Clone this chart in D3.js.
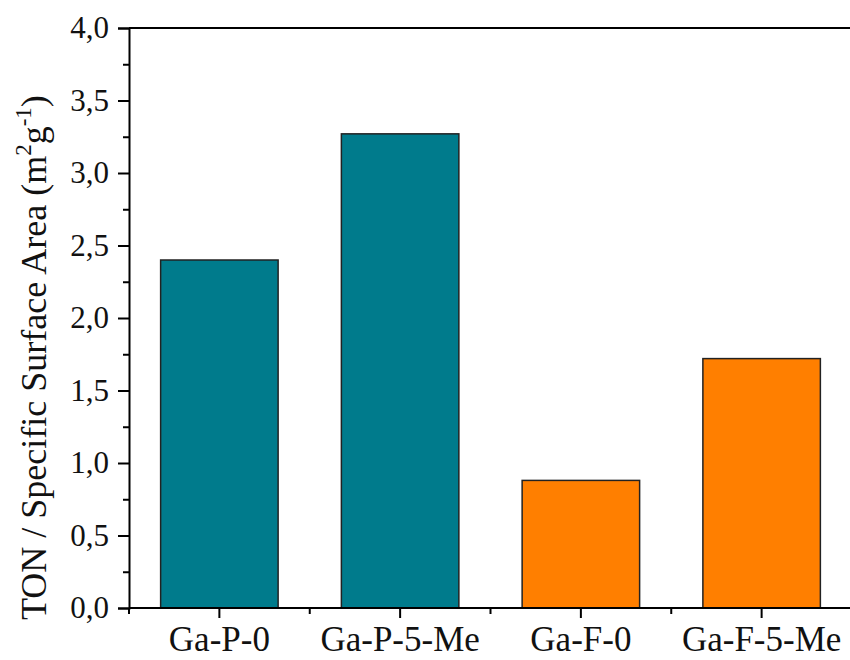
<!DOCTYPE html>
<html>
<head>
<meta charset="utf-8">
<script src="https://cdn.jsdelivr.net/npm/d3@7"></script>
<style>
  html, body { margin: 0; padding: 0; background: #fff; }
  svg text { font-family: "Liberation Serif", "Times New Roman", serif; fill: #111; }
</style>
</head>
<body>
<svg id="chart" width="850" height="660"></svg>
<script>
const categories = ["Ga-P-0", "Ga-P-5-Me", "Ga-F-0", "Ga-F-5-Me"];
const values = [2.40, 3.27, 0.88, 1.72];
const barColors = ["#007B8C", "#007B8C", "#FF7F00", "#FF7F00"];
const yTicks = [0, 0.5, 1.0, 1.5, 2.0, 2.5, 3.0, 3.5, 4.0];
const yMinorTicks = [0.25, 0.75, 1.25, 1.75, 2.25, 2.75, 3.25, 3.75];

const svg = d3.select("#chart");
const mLeft = 129, mRight = 852, mTop = 28, mBottom = 608;

const x = d3.scaleBand().domain(categories).range([mLeft, mRight])
  .paddingInner(0.35).paddingOuter(0.175);
const y = d3.scaleLinear().domain([0, 4]).range([mBottom, mTop]);

const fmt = d => d3.format(".1f")(d).replace(".", ",");

// bars
svg.append("g").selectAll("rect").data(categories).join("rect")
  .attr("x", d => x(d))
  .attr("y", (d, i) => y(values[i]))
  .attr("width", x.bandwidth())
  .attr("height", (d, i) => y(0) - y(values[i]))
  .attr("fill", (d, i) => barColors[i])
  .attr("stroke", "#222")
  .attr("stroke-width", 1.5);

// frame top & right
svg.append("line").attr("x1", mLeft).attr("x2", mRight).attr("y1", mTop).attr("y2", mTop)
  .attr("stroke", "#000").attr("stroke-width", 2);
svg.append("line").attr("x1", mRight).attr("x2", mRight).attr("y1", mTop).attr("y2", mBottom)
  .attr("stroke", "#000").attr("stroke-width", 2);

// y axis
const yAxis = svg.append("g").attr("transform", `translate(${mLeft},0)`)
  .call(d3.axisLeft(y).tickValues(yTicks).tickFormat(fmt).tickSize(11).tickPadding(9));
yAxis.select(".domain").attr("stroke-width", 2).attr("stroke", "#000");
yAxis.selectAll(".tick line").attr("stroke-width", 2).attr("stroke", "#000");
yAxis.selectAll(".tick text").attr("font-size", 31).attr("font-family", "Liberation Serif").attr("fill", "#111");
svg.append("g").attr("transform", `translate(${mLeft},0)`)
  .call(d3.axisLeft(y).tickValues(yMinorTicks).tickFormat("").tickSize(6))
  .call(g => g.select(".domain").remove())
  .selectAll(".tick line").attr("stroke-width", 2).attr("stroke", "#000");

// x axis
const xAxis = svg.append("g").attr("transform", `translate(0,${mBottom})`)
  .call(d3.axisBottom(x).tickSize(10).tickPadding(8));
xAxis.select(".domain").attr("stroke-width", 2).attr("stroke", "#000").attr("d", `M${mLeft},0H${mRight}`);
xAxis.selectAll(".tick line").attr("stroke-width", 2).attr("stroke", "#000");
xAxis.selectAll(".tick text").attr("font-size", 35).attr("font-family", "Liberation Serif").attr("fill", "#111");

// x minor ticks at band boundaries
const step = x.step();
const boundaries = categories.map(c => x(c) + x.bandwidth() / 2 - step / 2)
  .concat([x(categories[categories.length - 1]) + x.bandwidth() / 2 + step / 2]);
svg.append("g").selectAll("line").data(boundaries).join("line")
  .attr("x1", d => d).attr("x2", d => d)
  .attr("y1", mBottom).attr("y2", mBottom + 6)
  .attr("stroke", "#000").attr("stroke-width", 2);

// y title
const title = svg.append("text")
  .attr("transform", `translate(46,620) rotate(-90)`)
  .attr("text-anchor", "start")
  .attr("font-size", 36);
title.append("tspan").text("TON / Specific Surface Area (m");
title.append("tspan").text("2").attr("font-size", 23).attr("dy", -15);
title.append("tspan").text("g").attr("dy", 15);
title.append("tspan").text("-1").attr("font-size", 23).attr("dy", -15);
title.append("tspan").text(")").attr("dy", 15);
</script>
</body>
</html>
